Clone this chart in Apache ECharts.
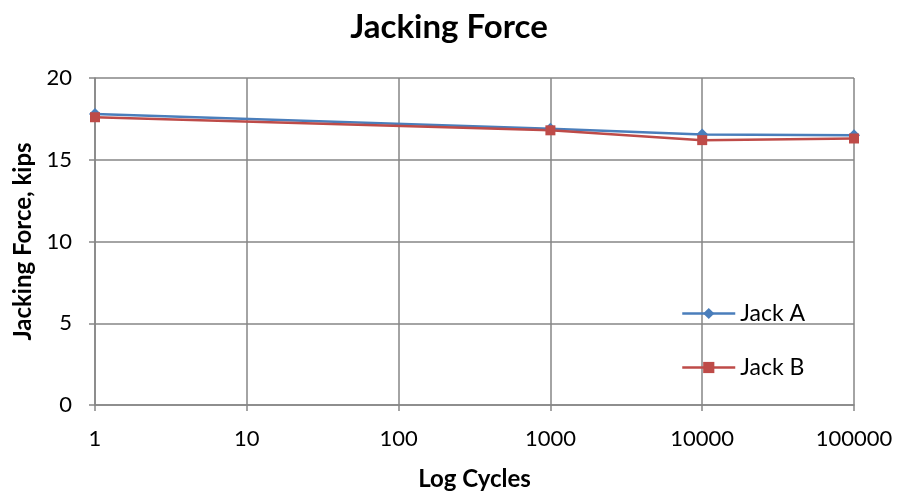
<!DOCTYPE html>
<html><head><meta charset="utf-8">
<script src="https://cdn.jsdelivr.net/npm/echarts@6/dist/echarts.min.js"></script>
<style>html,body{margin:0;padding:0;background:#fff}#c{width:898px;height:492px}</style>
</head><body><div id="c"></div>
<script>
const cycles = [1, 1000, 10000, 100000];
const jackA = [17.8, 16.9, 16.55, 16.5];
const jackB = [17.6, 16.8, 16.2, 16.3];
const seriesNames = ['Jack A', 'Jack B'];
const yTicks = [0, 5, 10, 15, 20];

const font = 'Lato, "Open Sans", sans-serif';
const chart = echarts.init(document.getElementById('c'));
chart.setOption({
  animation: false,
  title: { text: 'Jacking Force', left: 'center', top: 6,
    textStyle: { fontFamily: font, fontSize: 33, fontWeight: 'bold', color: '#000' } },
  grid: { left: 95, right: 44, top: 78, bottom: 87, outerBoundsMode: 'none', containLabel: false },
  legend: {
    orient: 'vertical', left: 676, top: 297, itemGap: 31, itemWidth: 53, itemHeight: 14,
    textStyle: { fontFamily: font, fontSize: 23, color: '#000' },
    lineStyle: { width: 2.5 },
    data: seriesNames
  },
  xAxis: {
    type: 'log', logBase: 10, min: 1, max: 100000,
    name: 'Log Cycles', nameLocation: 'middle', nameGap: 62,
    nameTextStyle: { fontFamily: font, fontSize: 24, fontWeight: 'bold', color: '#000' },
    axisLine: { lineStyle: { color: '#868686', width: 1.5 } },
    axisTick: { show: true, length: 6, lineStyle: { color: '#868686', width: 1.5 } },
    axisLabel: { fontFamily: font, fontSize: 22, color: '#000', margin: 23,
      formatter: v => String(Math.round(v)) },
    splitLine: { show: true, lineStyle: { color: '#868686', width: 1.5 } },
    minorTick: { show: false }
  },
  yAxis: {
    type: 'value', min: yTicks[0], max: yTicks[yTicks.length - 1], interval: 5,
    name: 'Jacking Force, kips', nameLocation: 'middle', nameGap: 60,
    nameTextStyle: { fontFamily: font, fontSize: 24, fontWeight: 'bold', color: '#000' },
    axisLine: { show: true, lineStyle: { color: '#868686', width: 1.5 } },
    axisTick: { show: true, length: 6, lineStyle: { color: '#868686', width: 1.5 } },
    axisLabel: { fontFamily: font, fontSize: 22, color: '#000', margin: 23 },
    splitLine: { show: true, lineStyle: { color: '#868686', width: 1.5 } }
  },
  series: [
    { name: seriesNames[0], type: 'line', data: cycles.map((c, i) => [c, jackA[i]]),
      symbol: 'diamond', symbolSize: 12, itemStyle: { color: '#4a7ebb' },
      lineStyle: { color: '#4a7ebb', width: 2.5 } },
    { name: seriesNames[1], type: 'line', data: cycles.map((c, i) => [c, jackB[i]]),
      symbol: 'rect', symbolSize: 10, itemStyle: { color: '#be4b48' },
      lineStyle: { color: '#be4b48', width: 2.5 } }
  ]
});
</script></body></html>
